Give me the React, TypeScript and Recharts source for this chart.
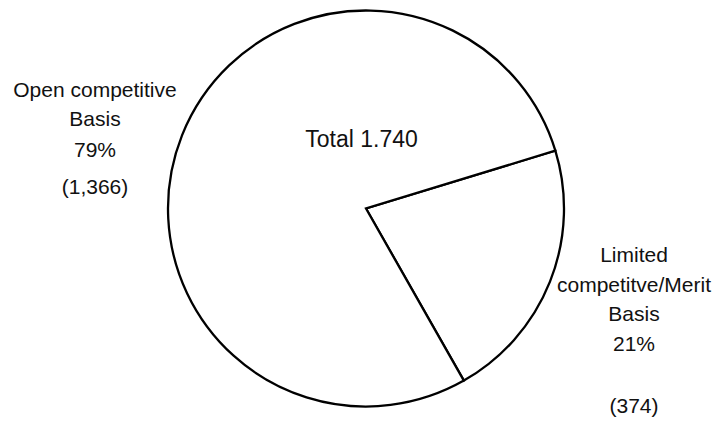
import { PieChart, Pie, Cell, Label } from 'recharts';

// slices, clockwise from the top-right edge
const names = ['Limited competitve/Merit Basis', 'Open competitive Basis'];
const nameLines = [
    ['Limited', 'competitve/Merit', 'Basis'],
    ['Open competitive', 'Basis'],
];
const counts = [374, 1366];
const totalLabel = 'Total 1.740';

const total = counts.reduce((a, b) => a + b, 0);
const data = names.map((name, i) => ({
    name,
    value: counts[i],
    lines: nameLines[i],
    pct: Math.round((counts[i] / total) * 100) + '%',
    count: '(' + counts[i].toLocaleString('en-US') + ')',
}));

const FONT = '"Liberation Sans", Arial, Helvetica, sans-serif';

// label block layout, relative to the pie centre
const LABEL_LAYOUT = [
    { dx: 268, baselines: [53.5, 83.5, 112.5, 142.5, 204.5] },
    { dx: -271, baselines: [-111.5, -82.5, -51.5, -14.5] },
];

const renderLabel = (props: any) => {
    const { cx, cy, index } = props;
    const d = data[index];
    const layout = LABEL_LAYOUT[index];
    const lines = [...d.lines, d.pct, d.count];
    return (
        <text
            x={cx + layout.dx}
            y={cy}
            textAnchor="middle"
            fill="#111"
            fontSize={21}
            fontFamily={FONT}
        >
            {lines.map((line, i) => (
                <tspan key={i} x={cx + layout.dx} y={cy + layout.baselines[i]}>
                    {line}
                </tspan>
            ))}
        </text>
    );
};

export default function App() {
    return (
        <div style={{ position: 'absolute', left: 0, top: 0, background: '#fff' }}>
            <PieChart width={718} height={424} margin={{ top: 0, right: 0, bottom: 0, left: 0 }}>
                <Pie
                    data={data}
                    dataKey="value"
                    nameKey="name"
                    cx={366}
                    cy={208.5}
                    outerRadius={198}
                    startAngle={17}
                    endAngle={-343}
                    stroke="#000"
                    strokeWidth={2.3}
                    label={renderLabel}
                    labelLine={false}
                    isAnimationActive={false}
                >
                    {data.map((d) => (
                        <Cell key={d.name} fill="#fff" stroke="#000" strokeWidth={2.3} />
                    ))}
                    <Label
                        content={(p: any) => {
                            const vb = p.viewBox || {};
                            return (
                                <text
                                    x={vb.cx - 4.5}
                                    y={vb.cy - 61.5}
                                    textAnchor="middle"
                                    fill="#111"
                                    fontSize={23}
                                    fontFamily={FONT}
                                >
                                    {totalLabel}
                                </text>
                            );
                        }}
                    />
                </Pie>
            </PieChart>
        </div>
    );
}
